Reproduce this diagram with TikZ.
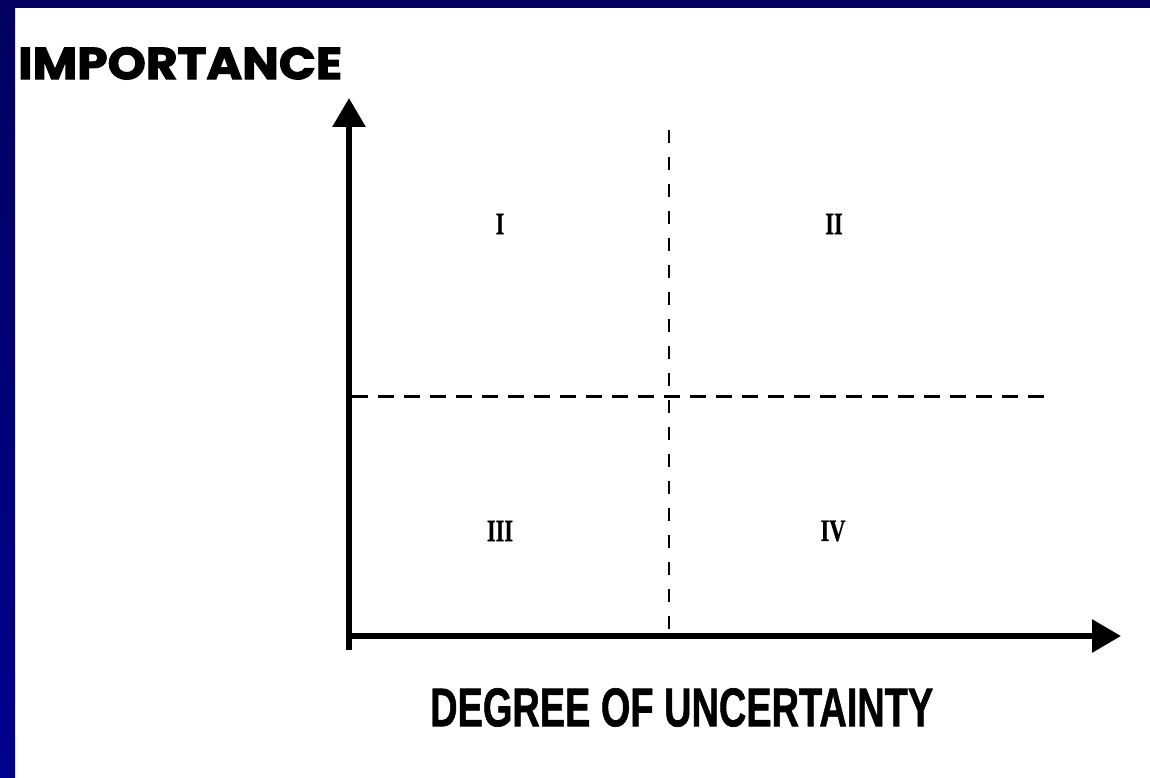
\documentclass[tikz,border=0pt]{standalone}
\usepackage{fontspec}
\setmainfont{Liberation Serif}[BoldFeatures={FakeBold=0.8}]
\newfontfamily\poppfont{Poppins}[BoldFeatures={FakeBold=2.2}]
\newfontfamily\heavyfont{Liberation Sans}[BoldFeatures={FakeBold=1.2}]
\usetikzlibrary{arrows.meta}
\definecolor{navytop}{HTML}{000060}
\definecolor{navybot}{HTML}{000090}
\begin{document}
\begin{tikzpicture}[x=1pt,y=-1pt,
  axis/.style={line width=6pt,-{Triangle[width=32pt,length=29pt]}},
  vdash/.style={line width=2.8pt,dash pattern=on 13pt off 14pt},
  hdash/.style={line width=3pt,dash pattern=on 16pt off 10pt},
  numeral/.style={inner sep=0pt,font=\fontsize{31}{31}\selectfont\bfseries},
  title/.style={inner sep=0pt,anchor=north west}]
\useasboundingbox (0,0) rectangle (1150,778);
\fill[white] (0,0) rectangle (1150,778);
\shade[top color=navytop,bottom color=navybot] (0,0) rectangle (15,778);
\fill[navytop] (0,0) rectangle (1150,8);
% coordinates
\coordinate (ybot) at (349,650);
\coordinate (ytop) at (349,98);
\coordinate (xleft) at (346,636);
\coordinate (xright) at (1121,636);
\coordinate (vtop) at (669,130);
\coordinate (vbot) at (669,634);
\coordinate (hleft) at (352,396);
\coordinate (hright) at (1054,396);
% dashed dividers
\draw[vdash] (vtop) -- (vbot);
\draw[hdash] (hleft) -- (hright);
% axes
\draw[axis] (ybot) -- (ytop);
\draw[axis] (xleft) -- (xright);
% quadrant labels
\node[numeral] (q1) at (500,224) {\scalebox{0.72}[1]{I}};
\node[numeral] (q2) at (834,224) {\scalebox{0.72}[1]{II}};
\node[numeral] (q3) at (500,531) {\scalebox{0.72}[1]{III}};
\node[numeral] (q4) at (833,531) {\scalebox{0.72}[1]{IV}};
% axis titles
\node[title] (imp) at (18,47) {\resizebox{324pt}{32pt}{\poppfont\bfseries IMPORTANCE}};
\node[title] (deg) at (430,688) {\resizebox{503pt}{38pt}{\heavyfont\bfseries DEGREE OF UNCERTAINTY}};
\end{tikzpicture}
\end{document}
